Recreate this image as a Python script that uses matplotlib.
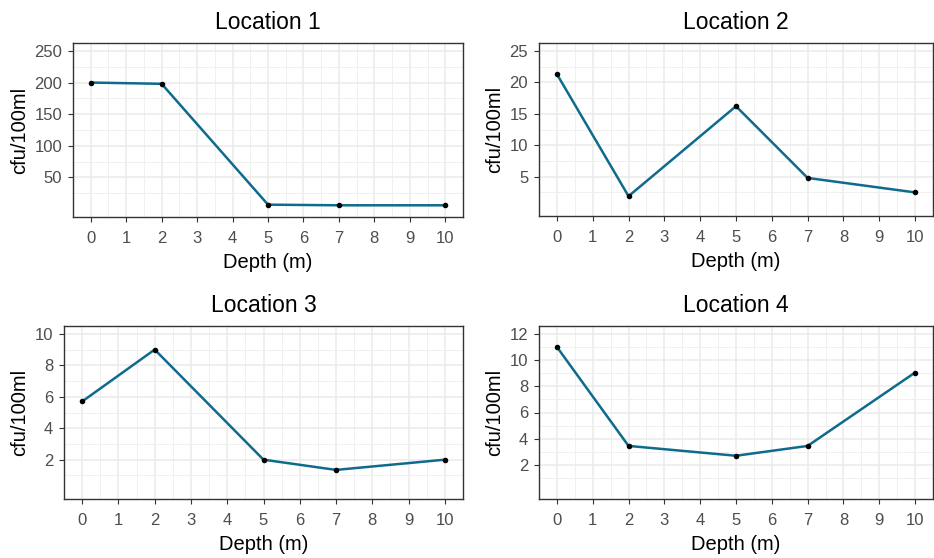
import matplotlib
matplotlib.use("Agg")
import matplotlib.pyplot as plt
import numpy as np

plt.rcParams['font.family'] = ['Liberation Sans', 'DejaVu Sans']

depth = [0, 2, 5, 7, 10]
titles = ["Location 1", "Location 2", "Location 3", "Location 4"]
loc1 = [200, 198, 7, 6, 6]
loc2 = [21.3, 1.9, 16.2, 4.8, 2.5]
loc3 = [5.7, 9.0, 2.0, 1.35, 2.0]
loc4 = [11.0, 3.45, 2.7, 3.45, 9.05]
series = [loc1, loc2, loc3, loc4]
x_ticks = list(range(0, 11))
y_limits = [(0, 250), (0, 25), (0, 10), (0, 12)]
y_ticks = [[50, 100, 150, 200, 250], [5, 10, 15, 20, 25], [2, 4, 6, 8, 10], [2, 4, 6, 8, 10, 12]]

W, H = 934, 558
fig = plt.figure(figsize=(W / 100, H / 100), dpi=100)
fig.patch.set_facecolor('white')

# panel boxes in pixels: left, right, top, bottom
boxes = [(73, 463, 43, 217), (539, 933, 43, 216), (64, 463, 326, 499), (539, 933, 326, 499)]

line_col = '#0F6B8B'
for i in range(4):
    l, r, t, b = boxes[i]
    ax = fig.add_axes([l / W, 1 - b / H, (r - l) / W, (b - t) / H])
    ax.set_facecolor('white')
    ax.plot(depth, series[i], color=line_col, lw=1.8, zorder=3, solid_capstyle='butt')
    ax.scatter(depth, series[i], color='black', s=16, zorder=4, linewidths=0)
    lo, hi = y_limits[i]
    ex = 0.05 * (hi - lo)
    ax.set_ylim(lo - ex, hi + ex)
    ax.set_xlim(-0.5, 10.5)
    ax.set_xticks(x_ticks)
    ax.set_xticklabels([str(v) for v in x_ticks])
    ax.set_yticks(y_ticks[i])
    ax.set_yticklabels([str(v) for v in y_ticks[i]])
    step = y_ticks[i][1] - y_ticks[i][0]
    minors_y = np.arange(y_ticks[i][0] - step / 2, hi + ex, step)
    minors_y = minors_y[minors_y >= lo - ex]
    ax.set_yticks(minors_y, minor=True)
    ax.set_xticks(np.arange(-0.5, 10.6, 1.0)[1:-1], minor=True)
    ax.grid(True, which='major', color='#EBEBEB', lw=1.1, zorder=0)
    ax.grid(True, which='minor', color='#F0F0F0', lw=0.7, zorder=0)
    ax.set_axisbelow(True)
    ax.tick_params(which='minor', length=0)
    ax.tick_params(axis='x', which='major', pad=6)
    ax.tick_params(axis='y', which='major', pad=4)
    ax.tick_params(which='major', length=3.8, width=0.8, color='#333333',
                   labelcolor='#4D4D4D', labelsize=12)
    for s in ax.spines.values():
        s.set_color('#333333')
        s.set_linewidth(1.0)
    ax.set_title(titles[i], fontsize=16.5, color='black', pad=10)
    ax.set_xlabel('Depth (m)', fontsize=14.5, color='black', labelpad=5)
    ax.set_ylabel('cfu/100ml', fontsize=14.5, color='black', labelpad=4)

fig.savefig('out.png', dpi=100, facecolor='white')
